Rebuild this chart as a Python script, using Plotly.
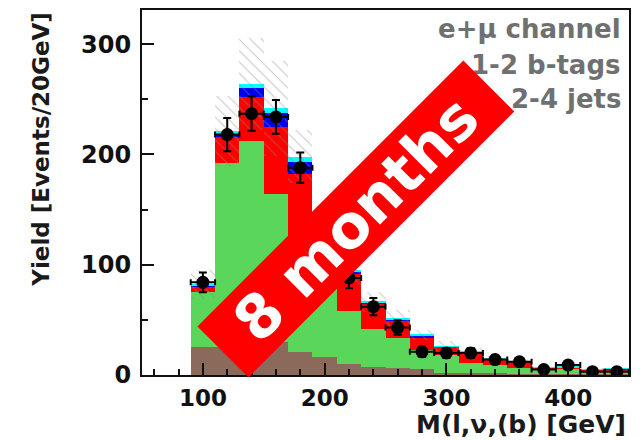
import numpy as np
import plotly.graph_objects as go

# bin centres [GeV], 20 GeV bins
bin_centers = [100, 120, 140, 160, 180, 200, 220, 240, 260, 280, 300, 320, 340, 360, 380, 400, 420, 440]

# stacked background components (events / 20 GeV)
brown = [25, 25, 29, 30, 21, 16.5, 10, 7.5, 6.5, 5, 2, 2, 1.5, 1, 1, 1, 0.5, 0.5]
green = [50, 167, 183, 134, 104, 68, 48, 34.5, 27, 17.5, 16, 9, 7.5, 5, 3.5, 5, 3.4, 2.5]
red = [5, 24, 40, 61, 57, 40, 34, 22.5, 16, 11.5, 7.4, 9, 5, 6, 2.1, 0.5, 1.1, 2.4]
blue = [1, 3, 8, 13, 11, 5, 2, 1.5, 1, 2, 0.6, 1, 0.5, 0.3, 0.2, 0.5, 0.2, 0.1]
cyan = [1, 2, 4, 4, 5, 3, 1, 0.5, 1, 0.5, 0.3, 0.3, 0.3, 0.2, 0.2, 1, 0.2, 0.1]

# systematic uncertainty (half width of hatched band)
syst = [13, 32, 42, 43, 24, 20, 13, 9, 7, 4.5, 4.5, 3, 2.5, 2, 1.2, 1.2, 0.8, 0.8]

# data points and their errors
data = [84, 218, 237, 234, 188, 132, 88, 62, 43, 21, 20, 20, 14, 12, 5, 9, 3, 3]
data_err = [9, 15, 15.5, 15.3, 13.7, 11.5, 9.4, 7.9, 6.6, 4.6, 4.5, 4.5, 3.7, 3.5, 2.2, 3, 1.7, 1.7]
bin_half = [10] * len(bin_centers)

x_ticks = [100, 200, 300, 400]
y_ticks = [0, 100, 200, 300]

labels = ["e+μ channel", "1-2 b-tags", "2-4 jets"]
banner_text = "8 months"

total = np.array(brown) + np.array(green) + np.array(red) + np.array(blue) + np.array(cyan)
syst_a = np.array(syst)

FONT = "DejaVu Sans"

fig = go.Figure()
for vals, col in [(brown, "#8c6a5b"), (green, "#5ad65a"), (red, "#ff0000"),
                  (blue, "#0000f0"), (cyan, "#00ffff")]:
    fig.add_trace(go.Bar(x=bin_centers, y=vals, marker=dict(color=col, line=dict(width=0)),
                         showlegend=False, hoverinfo="skip"))

fig.add_trace(go.Bar(
    x=bin_centers, y=2 * syst_a, base=total - syst_a,
    marker=dict(color="rgba(0,0,0,0)", line=dict(width=0),
                pattern=dict(shape="\\", fgcolor="#8a8a8a", bgcolor="rgba(0,0,0,0)",
                             size=8, solidity=0.12)),
    showlegend=False, hoverinfo="skip"))

fig.add_trace(go.Scatter(
    x=bin_centers, y=data, mode="markers",
    marker=dict(color="black", size=13),
    error_y=dict(type="data", array=data_err, color="black", thickness=2, width=4),
    error_x=dict(type="data", array=bin_half, color="black", thickness=2, width=3),
    showlegend=False))

axis_common = dict(showline=True, linecolor="#111", linewidth=2, mirror=True,
                   ticks="inside", tickcolor="#111", tickwidth=2, ticklen=12,
                   showgrid=False, zeroline=False)

fig.update_xaxes(range=[50, 450], tickvals=x_ticks, ticklabelstandoff=1,
                 tickfont=dict(family=FONT, size=23, color="#111", weight="bold"),
                 minor=dict(dtick=20, ticks="inside", ticklen=6, tickwidth=2, tickcolor="#111"),
                 **axis_common)
fig.update_yaxes(range=[0, 331], tickvals=y_ticks, ticklabelstandoff=4,
                 tickfont=dict(family=FONT, size=24, color="#111", weight="bold"),
                 minor=dict(dtick=50, ticks="inside", ticklen=6, tickwidth=2, tickcolor="#111"),
                 **axis_common)

ann = []
ys = [0.948, 0.850, 0.755]
for t, yy in zip(labels, ys):
    ann.append(dict(text=t, xref="paper", yref="paper", x=0.988, y=yy, xanchor="right",
                    yanchor="middle", showarrow=False,
                    font=dict(family=FONT, size=26, color="#707070", weight="bold")))
ann.append(dict(text="M(l,ν,(b) [GeV]", xref="paper", yref="paper", x=0.998, y=-0.136,
                xanchor="right", yanchor="middle", showarrow=False,
                font=dict(family=FONT, size=25, color="#1a1a1a", weight="bold")))
ann.append(dict(text="Yield [Events/20GeV]", xref="paper", yref="paper", x=-0.209, y=1.0,
                xanchor="center", yanchor="top", textangle=-90, showarrow=False,
                font=dict(family=FONT, size=23, color="#1a1a1a", weight="bold")))
ann.append(dict(text=banner_text, xref="paper", yref="paper", x=0.439, y=0.427,
                xanchor="center", yanchor="middle", textangle=-45, showarrow=False,
                bgcolor="#ff0000", borderpad=0, borderwidth=0, width=376, height=72,
                font=dict(family=FONT, size=60, color="white", weight="bold")))

fig.update_layout(
    width=643, height=440, barmode="stack", bargap=0,
    margin=dict(l=142, r=14, t=8, b=65),
    paper_bgcolor="white", plot_bgcolor="white",
    annotations=ann, showlegend=False)

fig.write_html("out.html")
